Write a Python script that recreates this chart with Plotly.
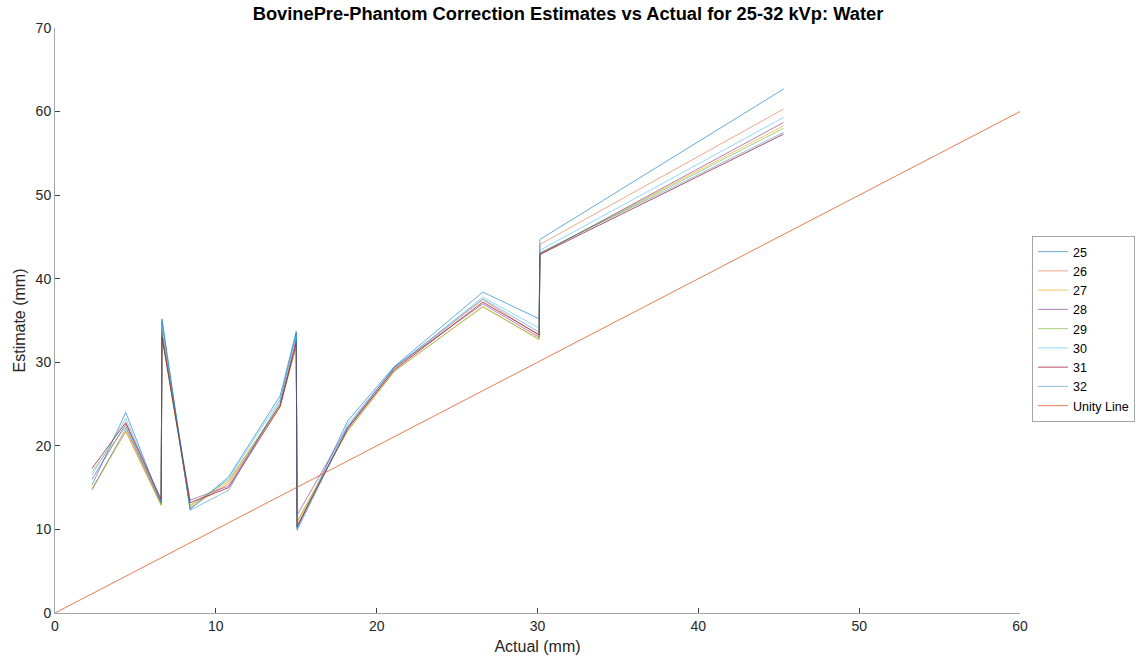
import plotly.graph_objects as go

actual = [2.3, 4.4, 6.6, 6.65, 8.4, 10.8, 14.0, 15.0, 15.05, 18.2, 21.1, 26.6, 30.1, 30.15, 45.3]

kvp_labels = ["25", "26", "27", "28", "29", "30", "31", "32"]
est_25 = [15.3, 24.0, 13.2, 35.2, 12.4, 16.3, 26.0, 33.7, 10.2, 23.0, 29.5, 38.4, 35.2, 44.7, 62.7]
est_26 = [14.8, 21.8, 12.9, 33.8, 12.6, 15.5, 24.9, 32.2, 10.5, 22.0, 29.2, 37.5, 33.2, 44.1, 60.3]
est_27 = [14.9, 21.7, 12.9, 33.2, 12.8, 15.7, 24.8, 31.9, 10.8, 21.8, 29.0, 36.6, 32.8, 43.0, 58.3]
est_28 = [16.0, 22.6, 13.3, 33.5, 13.5, 15.2, 25.0, 32.8, 11.7, 22.3, 29.4, 37.0, 33.0, 42.9, 58.7]
est_29 = [16.9, 22.3, 13.0, 33.3, 12.9, 15.9, 24.9, 32.0, 11.0, 21.8, 28.9, 36.7, 32.7, 43.0, 58.0]
est_30 = [16.5, 23.3, 13.4, 34.5, 12.5, 16.1, 25.6, 33.3, 10.0, 22.6, 29.3, 37.8, 34.1, 43.4, 59.3]
est_31 = [17.3, 22.8, 13.6, 33.0, 13.2, 15.0, 24.7, 32.4, 10.3, 22.1, 29.1, 37.2, 33.3, 42.9, 57.3]
est_32 = [14.7, 22.1, 13.2, 34.9, 12.3, 14.7, 25.4, 33.5, 9.9, 22.2, 29.4, 37.6, 33.6, 43.1, 57.5]

unity_x = [0, 60]
unity_y = [0, 60]

series = [est_25, est_26, est_27, est_28, est_29, est_30, est_31, est_32]
colors = ["rgba(0,114,189,0.6)", "rgba(217,83,25,0.5)", "rgba(237,177,32,0.7)",
          "rgba(126,47,142,0.6)", "rgba(119,172,48,0.6)", "rgba(77,190,238,0.6)",
          "rgba(162,20,47,0.75)", "rgba(0,114,189,0.45)"]

fig = go.Figure()
for lab, ys, c in zip(kvp_labels, series, colors):
    fig.add_trace(go.Scatter(x=actual, y=ys, mode="lines", name=lab,
                             line=dict(color=c, width=1)))
fig.add_trace(go.Scatter(x=unity_x, y=unity_y, mode="lines", name="Unity Line",
                         line=dict(color="rgba(217,83,25,0.75)", width=1)))

axis_common = dict(showgrid=False, zeroline=False, showline=True, linecolor="#a6a6a6",
                   linewidth=1, ticks="inside", ticklen=5, tickcolor="#404040",
                   tickfont=dict(family="Liberation Sans, Arial", size=14, color="#262626"),
                   mirror=False, automargin=False)

fig.update_layout(
    width=1136, height=664,
    margin=dict(l=55, r=116, t=28, b=51, autoexpand=False),
    paper_bgcolor="white", plot_bgcolor="white",
    title=dict(text="<b>BovinePre-Phantom Correction Estimates vs Actual for 25-32 kVp: Water</b>",
               x=0.5, xref="container", xanchor="center", y=1 - 14 / 664, yref="container",
               yanchor="middle",
               font=dict(family="Liberation Sans, Arial", size=18.3, color="#000000")),
    xaxis=dict(range=[0, 60], tickvals=[0, 10, 20, 30, 40, 50, 60],
               title=dict(text="Actual (mm)", standoff=8,
                          font=dict(family="Liberation Sans, Arial", size=16, color="#262626")),
               **axis_common),
    yaxis=dict(range=[0, 70], tickvals=[0, 10, 20, 30, 40, 50, 60, 70],
               title=dict(text="Estimate (mm)", standoff=6,
                          font=dict(family="Liberation Sans, Arial", size=16, color="#262626")),
               **axis_common),
    legend=dict(x=1032 / 1136, xref="container", xanchor="left",
                y=(664 - 329) / 664, yref="container", yanchor="middle",
                bordercolor="#a6a6a6", borderwidth=1, bgcolor="white",
                font=dict(family="Liberation Sans, Arial", size=12.5, color="#000000"),
                itemwidth=30, tracegroupgap=0),
    showlegend=True,
)

fig.write_html("out.html")
